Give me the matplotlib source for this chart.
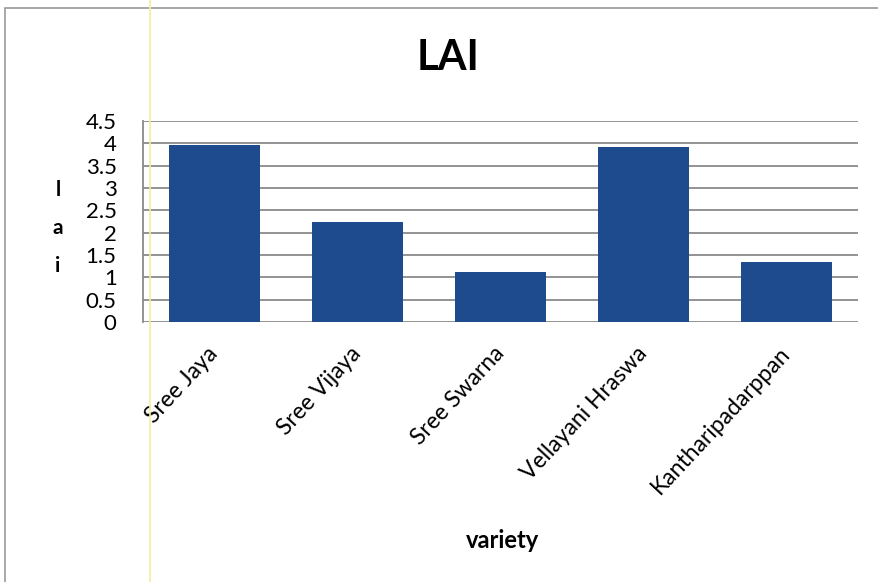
import matplotlib.pyplot as plt
from matplotlib.patches import Rectangle
from matplotlib.lines import Line2D
import numpy as np

# data
varieties = ['Sree Jaya', 'Sree Vijaya', 'Sree Swarna', 'Vellayani Hraswa', 'Kantharipadarppan']
lai = [3.96, 2.24, 1.12, 3.91, 1.34]
yticks = [0, 0.5, 1, 1.5, 2, 2.5, 3, 3.5, 4, 4.5]

plt.rcParams['font.family'] = ['Lato', 'DejaVu Sans']

fig = plt.figure(figsize=(8.79, 5.82), dpi=100)
ax = fig.add_axes([143/879, 1 - 322/582, 715/879, 201/582])

x = np.arange(len(varieties))
ax.bar(x, lai, width=0.64, color='#1e4a8e', zorder=3)

ax.set_xlim(-0.5, len(varieties) - 0.5)
ax.set_ylim(0, 4.5)
ax.set_yticks(yticks)
ax.set_yticklabels([('%g' % t) for t in yticks], fontsize=16)
ax.yaxis.grid(True, color='#8a8a8a', linewidth=1.3, zorder=0)
ax.tick_params(axis='y', length=0, pad=19)
ax.tick_params(axis='x', length=0, pad=20)

ax.set_xticks(x)
ax.set_xticklabels(varieties, rotation=47, ha='right', va='center',
                   rotation_mode='anchor', fontsize=16.5)

for s in ['top', 'right', 'bottom']:
    ax.spines[s].set_visible(False)
ax.spines['left'].set_color('#8a8a8a')
ax.spines['left'].set_linewidth(1.3)

fig.text(448/879, 1 - 58/582, 'LAI', fontsize=30, fontweight='bold',
         ha='center', va='center')
ax.set_xlabel('variety', fontsize=17, fontweight='bold')
ax.xaxis.set_label_coords((503 - 143)/715, -(540 - 322)/201)
ax.xaxis.label.set_va('center')
ax.set_ylabel('l\na\ni', rotation=0, fontsize=15, fontweight='bold',
              linespacing=2.1, va='center', ha='center')
ax.yaxis.set_label_coords(-0.119, (322 - 228)/201)

# outer frame of the pasted chart and the scan artefact
fig.add_artist(Rectangle((5/879, -0.1), 1.2, 1.1 - 8/582, transform=fig.transFigure,
                         fill=False, edgecolor='#9a9a9a', linewidth=1.2))
fig.add_artist(Line2D([150/879, 150/879], [0, 1], transform=fig.transFigure,
                      color='#f4ee9a', linewidth=1.2))

fig.savefig('out.png', dpi=100)
